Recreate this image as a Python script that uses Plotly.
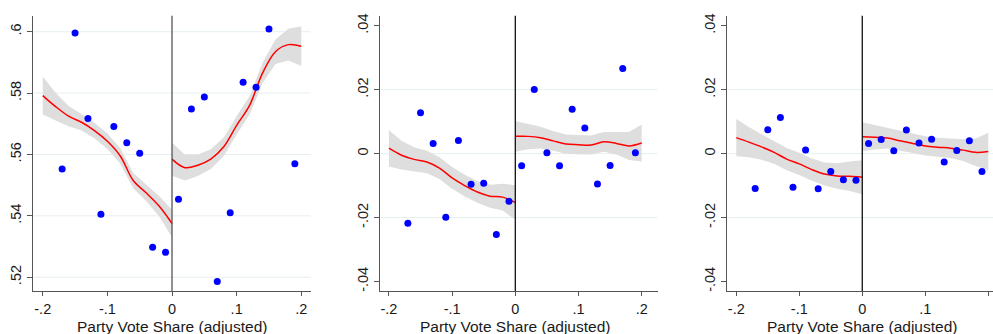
import plotly.graph_objects as go

# ---------------- data ----------------
bin_x = [-0.17, -0.15, -0.13, -0.11, -0.09, -0.07, -0.05, -0.03, -0.01,
         0.01, 0.03, 0.05, 0.07, 0.09, 0.11, 0.13, 0.15, 0.17, 0.19]

p1_bins = [0.5553, 0.5996, 0.5717, 0.5405, 0.5691, 0.5638, 0.5604, 0.5298, 0.5281,
           0.5454, 0.5748, 0.5787, 0.5186, 0.5410, 0.5835, 0.5819, 0.6009, None, 0.5570]
p2_bins = [-0.0218, 0.0128, 0.0032, -0.0199, 0.0041, -0.0096, -0.0093, -0.0253, -0.0149,
           -0.0038, 0.0201, 0.0003, -0.0038, 0.0139, 0.0080, -0.0095, -0.0037, 0.0266, 0.0003]
p3_bins = [-0.0109, 0.0075, 0.0113, -0.0105, 0.0011, -0.0110, -0.0056, -0.0082, -0.0083,
           0.0032, 0.0044, 0.0009, 0.0074, 0.0033, 0.0045, -0.0026, 0.0010, 0.0040, -0.0056]

fit_left_x = [-0.20, -0.18, -0.16, -0.14, -0.12, -0.10, -0.08, -0.06, -0.04, -0.02, 0.00]
fit_right_x = [0.00, 0.02, 0.04, 0.06, 0.08, 0.10, 0.12, 0.14, 0.16, 0.18, 0.20]

p1_fit_left = [0.5792, 0.5756, 0.5725, 0.5705, 0.5678, 0.5643, 0.5595, 0.5515, 0.5475, 0.5432, 0.5375]
p1_ci_left = [0.0062, 0.0045, 0.0033, 0.0027, 0.0025, 0.0025, 0.0025, 0.0025, 0.0027, 0.0033, 0.0045]
p1_fit_right = [0.5585, 0.5557, 0.5565, 0.5585, 0.5625, 0.5695, 0.5760, 0.5865, 0.5935, 0.5958, 0.5953]
p1_ci_right = [0.0054, 0.0042, 0.0035, 0.0032, 0.0030, 0.0030, 0.0030, 0.0033, 0.0040, 0.0052, 0.0065]

p2_fit_left = [0.0017, -0.0005, -0.0018, -0.0026, -0.0045, -0.0076, -0.0100, -0.0120, -0.0133, -0.0136, -0.0153]
p2_ci_left = [0.0057, 0.0045, 0.0038, 0.0035, 0.0034, 0.0034, 0.0034, 0.0034, 0.0036, 0.0042, 0.0054]
p2_fit_right = [0.0054, 0.0054, 0.0050, 0.0040, 0.0030, 0.0028, 0.0027, 0.0037, 0.0032, 0.0024, 0.0033]
p2_ci_right = [0.0048, 0.0040, 0.0034, 0.0031, 0.0030, 0.0030, 0.0030, 0.0031, 0.0035, 0.0044, 0.0058]

p3_fit_left = [0.0050, 0.0036, 0.0021, 0.0004, -0.0017, -0.0032, -0.0050, -0.0064, -0.0070, -0.0071, -0.0074]
p3_ci_left = [0.0058, 0.0047, 0.0040, 0.0036, 0.0035, 0.0035, 0.0035, 0.0036, 0.0040, 0.0046, 0.0053]
p3_fit_right = [0.0053, 0.0051, 0.0049, 0.0040, 0.0032, 0.0024, 0.0020, 0.0017, 0.0011, 0.0004, 0.0007]
p3_ci_right = [0.0045, 0.0038, 0.0033, 0.0031, 0.0030, 0.0030, 0.0030, 0.0031, 0.0034, 0.0043, 0.0058]

x_ticks = [-0.2, -0.1, 0, 0.1, 0.2]
x_tick_text = ["-.2", "-.1", "0", ".1", ".2"]
p1_y_ticks = [0.52, 0.54, 0.56, 0.58, 0.60]
p1_y_tick_text = [".52", ".54", ".56", ".58", ".6"]
p23_y_ticks = [-0.04, -0.02, 0, 0.02, 0.04]
p23_y_tick_text = ["-.04", "-.02", "0", ".02", ".04"]
p1_grid = [0.52, 0.54, 0.56, 0.58, 0.60]
p23_grid = [-0.02, 0, 0.02]

x_title = "Party Vote Share (adjusted)"

# ---------------- layout geometry (pixels) ----------------
W, H = 993, 334
panels = [
    dict(bins=p1_bins, fl=p1_fit_left, cl=p1_ci_left, fr=p1_fit_right, cr=p1_ci_right,
         xr=[-0.2146, 0.2144], yr=[0.51548, 0.60517], px=[33.3, 310.6],
         yt=p1_y_ticks, ytt=p1_y_tick_text, grid=p1_grid, vcol="#555555"),
    dict(bins=p2_bins, fl=p2_fit_left, cl=p2_ci_left, fr=p2_fit_right, cr=p2_ci_right,
         xr=[-0.2141, 0.2250], yr=[-0.0430, 0.0431], px=[380.0, 657.5],
         yt=p23_y_ticks, ytt=p23_y_tick_text, grid=p23_grid, vcol="#111111"),
    dict(bins=p3_bins, fl=p3_fit_left, cl=p3_ci_left, fr=p3_fit_right, cr=p3_ci_right,
         xr=[-0.2152, 0.2075], yr=[-0.0430, 0.0431], px=[726.7, 993.0],
         yt=p23_y_ticks, ytt=p23_y_tick_text, grid=p23_grid, vcol="#111111"),
]
y_dom = [1 - 291.7 / H, 1 - 14.0 / H]

fig = go.Figure()
band_col = "rgb(222,222,222)"
font = dict(family="Liberation Sans, Arial, Helvetica, sans-serif", size=14.5, color="#1a1a1a")
title_font = dict(family="Liberation Sans, Arial, Helvetica, sans-serif", size=15.5, color="#1a1a1a")
shapes = []
annotations = []
layout = {}

for i, p in enumerate(panels, start=1):
    xa = "x" if i == 1 else f"x{i}"
    ya = "y" if i == 1 else f"y{i}"
    # confidence bands
    for fx, fy, ci in [(fit_left_x, p["fl"], p["cl"]), (fit_right_x, p["fr"], p["cr"])]:
        up = [a + b for a, b in zip(fy, ci)]
        lo = [a - b for a, b in zip(fy, ci)]
        fig.add_trace(go.Scatter(x=fx + fx[::-1], y=up + lo[::-1], fill="toself",
                                 fillcolor=band_col, line=dict(width=0), mode="lines",
                                 hoverinfo="skip", showlegend=False, xaxis=xa, yaxis=ya))
        fig.add_trace(go.Scatter(x=fx, y=fy, mode="lines", line=dict(color="#ff0000", width=1.5),
                                 line_shape="spline", showlegend=False, xaxis=xa, yaxis=ya))
    fig.add_trace(go.Scatter(x=bin_x, y=p["bins"], mode="markers",
                             marker=dict(color="#0000ff", size=7, line=dict(width=0)),
                             showlegend=False, xaxis=xa, yaxis=ya))
    # gridlines
    for g in p["grid"]:
        shapes.append(dict(type="line", xref=f"{xa} domain", yref=ya, x0=0, x1=1, y0=g, y1=g,
                           line=dict(color="#e6eff1", width=1), layer="below"))
    # cutoff line
    shapes.append(dict(type="line", xref=xa, yref=f"{ya} domain", x0=0, x1=0, y0=0, y1=1,
                       line=dict(color=p["vcol"], width=1.3), layer="above"))
    # x-axis title (centred under the -.2 .. .2 span)
    annotations.append(dict(text=x_title, xref=xa, yref="paper", x=0, y=0,
                            xanchor="center", yanchor="bottom", yshift=-3, borderpad=0,
                            showarrow=False, font=title_font))

    xkey = "xaxis" if i == 1 else f"xaxis{i}"
    ykey = "yaxis" if i == 1 else f"yaxis{i}"
    layout[xkey] = dict(domain=[p["px"][0] / W, p["px"][1] / W], range=p["xr"], anchor=ya,
                        tickvals=x_ticks, ticktext=x_tick_text, ticks="outside", ticklen=4,
                        tickcolor="#555555", showline=True, linecolor="#555555", linewidth=1.3,
                        showgrid=False, zeroline=False, tickfont=font)
    layout[ykey] = dict(domain=y_dom, range=p["yr"], anchor=xa,
                        tickvals=p["yt"], ticktext=p["ytt"], ticks="outside", ticklen=5,
                        tickcolor="#555555", showline=True, linecolor="#555555", linewidth=1.3,
                        showgrid=False, zeroline=False, tickfont=font, tickangle=-90)

fig.update_layout(width=W, height=H, margin=dict(l=0, r=0, t=0, b=0),
                  paper_bgcolor="white", plot_bgcolor="white", shapes=shapes,
                  annotations=annotations, **layout)
fig.write_html("out.html", config={"displayModeBar": False})
